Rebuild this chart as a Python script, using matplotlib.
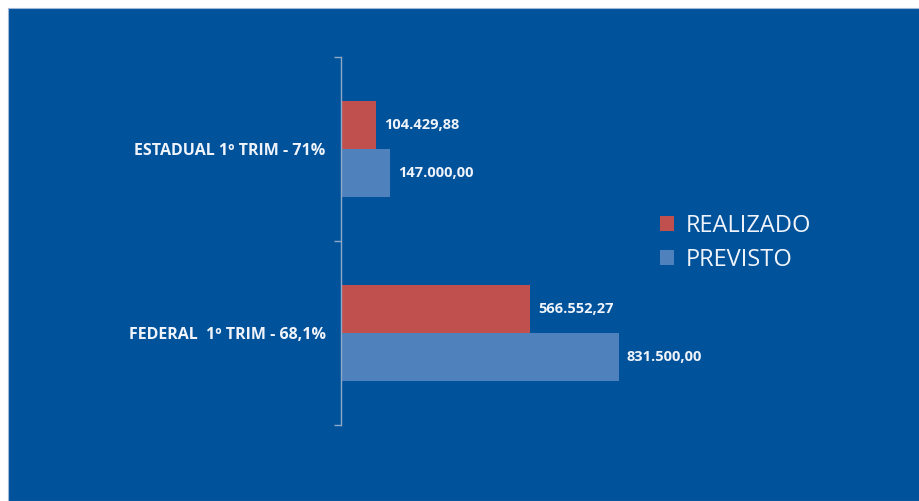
import matplotlib.pyplot as plt
from matplotlib.patches import Rectangle

categories = ["FEDERAL  1º TRIM - 68,1%", "ESTADUAL 1º TRIM - 71%"]
realizado = [566552.27, 104429.88]
previsto = [831500.00, 147000.00]
realizado_labels = ["566.552,27", "104.429,88"]
previsto_labels = ["831.500,00", "147.000,00"]

bg = "#00529B"
red = "#C0504D"
blue = "#4F81BD"
txt = "#F0F4FA"
font = "Open Sans"

W, H = 920, 501
fig = plt.figure(figsize=(W / 100, H / 100), dpi=100, facecolor="white")
fig.patches.append(Rectangle((8 / W, 0), 1, (H - 8) / H, transform=fig.transFigure,
                             facecolor=bg, edgecolor="#9DB8D8", linewidth=0.8, zorder=-10))

ax = fig.add_axes([341 / W, (H - 425) / H, 334 / W, 368 / H])
ax.set_facecolor("none")

y = [0, 1]
h = 0.26
ax.barh([v + h / 2 for v in y], realizado, height=h, color=red, label="REALIZADO")
ax.barh([v - h / 2 for v in y], previsto, height=h, color=blue, label="PREVISTO")

for i in range(len(y)):
    ax.text(realizado[i] + 24000, y[i] + h / 2, realizado_labels[i], color=txt,
            fontsize=10.5, fontweight="bold", family=font, va="center", ha="left")
    ax.text(previsto[i] + 24000, y[i] - h / 2, previsto_labels[i], color=txt,
            fontsize=10.5, fontweight="bold", family=font, va="center", ha="left")

ax.set_xlim(0, 1000000)
ax.set_ylim(-0.5, 1.5)
ax.set_yticks([-0.5, 0.5, 1.5])
ax.set_yticklabels([])
ax.set_yticks(y, minor=True)
ax.set_yticklabels(categories, minor=True, color=txt, fontsize=11.5, fontweight="bold", family=font)
ax.tick_params(axis="y", which="major", length=5, color="#8EA9C8", width=1)
ax.tick_params(axis="y", which="minor", length=0, pad=11)
ax.set_xticks([])
for s in ["top", "right", "bottom"]:
    ax.spines[s].set_visible(False)
ax.spines["left"].set_color("#8EA9C8")
ax.spines["left"].set_linewidth(1)

leg = fig.legend(loc="center left", bbox_to_anchor=(639 / W, 1 - 243 / H), frameon=False,
                 prop={"family": font, "size": 17}, labelcolor=txt, handlelength=0.6,
                 handleheight=0.6, handletextpad=0.5, labelspacing=0.45)

fig.savefig("out.png", dpi=100, facecolor=fig.get_facecolor())
